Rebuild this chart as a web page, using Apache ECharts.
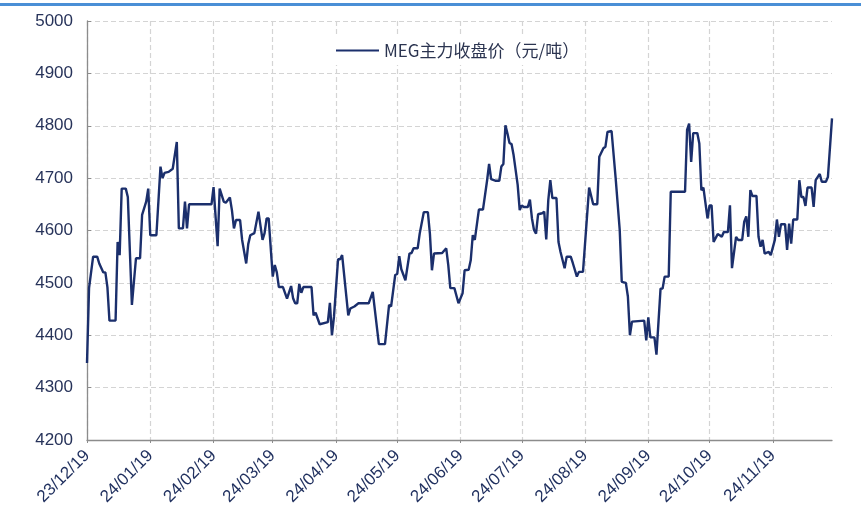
<!DOCTYPE html>
<html>
<head>
<meta charset="utf-8">
<script src="https://cdn.jsdelivr.net/npm/echarts@6/dist/echarts.min.js"></script>
<style>
  html, body { margin: 0; padding: 0; background: #ffffff; }
  #chart { width: 861px; height: 525px; }
</style>
</head>
<body>
<div id="chart"></div>
<script>
// MEG main contract daily close, CNY per tonne
const seriesName = 'MEG主力收盘价（元/吨）';
const startDate = '2023-12-19';
const endDate = '2024-12-18';
const yTicks = [4200, 4300, 4400, 4500, 4600, 4700, 4800, 4900, 5000];

const tradeDates = [
  '2023-12-19','2023-12-20','2023-12-22','2023-12-24','2023-12-25','2023-12-27','2023-12-28','2023-12-29','2023-12-30',
  '2024-01-02','2024-01-03','2024-01-04','2024-01-05','2024-01-07','2024-01-08','2024-01-10','2024-01-12','2024-01-14',
  '2024-01-15','2024-01-17','2024-01-18','2024-01-19','2024-01-22','2024-01-24','2024-01-25','2024-01-26','2024-01-28','2024-01-30',
  '2024-02-01','2024-02-02','2024-02-04','2024-02-05','2024-02-06','2024-02-07','2024-02-18','2024-02-19','2024-02-21',
  '2024-02-22','2024-02-24','2024-02-25','2024-02-27','2024-02-28','2024-02-29',
  '2024-03-01','2024-03-03','2024-03-04','2024-03-06','2024-03-07','2024-03-08','2024-03-10','2024-03-12','2024-03-14',
  '2024-03-15','2024-03-16','2024-03-17','2024-03-19','2024-03-20','2024-03-21','2024-03-22','2024-03-24','2024-03-26',
  '2024-03-28','2024-03-29','2024-03-30','2024-03-31',
  '2024-04-01','2024-04-02','2024-04-03','2024-04-07','2024-04-08','2024-04-09','2024-04-10','2024-04-11','2024-04-15',
  '2024-04-16','2024-04-17','2024-04-18','2024-04-20','2024-04-21','2024-04-22','2024-04-25','2024-04-26','2024-04-28','2024-04-30',
  '2024-05-05','2024-05-07','2024-05-10','2024-05-13','2024-05-15','2024-05-16','2024-05-18','2024-05-19','2024-05-20',
  '2024-05-21','2024-05-23','2024-05-25','2024-05-26','2024-05-27','2024-05-29','2024-05-30',
  '2024-06-01','2024-06-03','2024-06-04','2024-06-05','2024-06-06','2024-06-10','2024-06-12','2024-06-13','2024-06-14',
  '2024-06-16','2024-06-18','2024-06-20','2024-06-21','2024-06-23','2024-06-24','2024-06-25','2024-06-26','2024-06-28','2024-06-30',
  '2024-07-02','2024-07-03','2024-07-04','2024-07-06','2024-07-08','2024-07-09','2024-07-10','2024-07-11','2024-07-12',
  '2024-07-13','2024-07-14','2024-07-15','2024-07-17','2024-07-18','2024-07-19','2024-07-20','2024-07-22','2024-07-23',
  '2024-07-24','2024-07-25','2024-07-26','2024-07-27','2024-07-29','2024-07-30','2024-07-31',
  '2024-08-01','2024-08-02','2024-08-03','2024-08-05','2024-08-06','2024-08-07','2024-08-09','2024-08-10','2024-08-12',
  '2024-08-13','2024-08-15','2024-08-16','2024-08-18','2024-08-21','2024-08-23','2024-08-25','2024-08-26','2024-08-28',
  '2024-08-29','2024-08-30',
  '2024-09-01','2024-09-03','2024-09-05','2024-09-06','2024-09-08','2024-09-09','2024-09-10','2024-09-11','2024-09-17',
  '2024-09-18','2024-09-19','2024-09-20','2024-09-22','2024-09-23','2024-09-25','2024-09-26','2024-09-27','2024-09-29','2024-09-30',
  '2024-10-07','2024-10-08','2024-10-09','2024-10-10','2024-10-11','2024-10-13','2024-10-14','2024-10-15','2024-10-16',
  '2024-10-18','2024-10-19','2024-10-20','2024-10-21','2024-10-23','2024-10-24','2024-10-25','2024-10-26','2024-10-28',
  '2024-10-29','2024-10-30',
  '2024-11-01','2024-11-02','2024-11-04','2024-11-05','2024-11-06','2024-11-07','2024-11-08','2024-11-09','2024-11-11',
  '2024-11-12','2024-11-13','2024-11-14','2024-11-15','2024-11-17','2024-11-18','2024-11-20','2024-11-21','2024-11-22',
  '2024-11-23','2024-11-25','2024-11-26','2024-11-27','2024-11-28','2024-11-29',
  '2024-12-01','2024-12-02','2024-12-03','2024-12-04','2024-12-05','2024-12-06','2024-12-08','2024-12-09','2024-12-10',
  '2024-12-12','2024-12-13','2024-12-15','2024-12-16','2024-12-18'
];

const closePrices = [
  4347, 4490, 4550, 4550, 4537, 4520, 4520, 4492, 4428,
  4428, 4578, 4553, 4680, 4680, 4664, 4458, 4547, 4547,
  4630, 4655, 4680, 4591, 4591, 4722, 4700, 4710, 4712, 4718,
  4769, 4604, 4604, 4655, 4604, 4650, 4650, 4683, 4570,
  4680, 4655, 4653, 4663, 4639, 4604,
  4620, 4620, 4582, 4537, 4574, 4591, 4595, 4636, 4582,
  4595, 4623, 4623, 4512, 4534, 4520, 4492, 4492, 4470,
  4494, 4470, 4461, 4461,
  4498, 4481, 4492, 4492, 4438, 4443, 4432, 4421, 4425,
  4462, 4400, 4435, 4545, 4545, 4553, 4438, 4451, 4455, 4461,
  4461, 4483, 4383, 4383, 4458, 4455, 4515, 4517, 4551,
  4526, 4505, 4556, 4557, 4566, 4566, 4594,
  4635, 4635, 4594, 4524, 4556, 4557, 4566, 4534, 4490,
  4490, 4461, 4480, 4524, 4525, 4543, 4591, 4582, 4640, 4640,
  4695, 4727, 4698, 4695, 4695, 4722, 4727, 4801, 4785,
  4767, 4765, 4744, 4687, 4639, 4648, 4645, 4645, 4659,
  4623, 4601, 4594, 4631, 4633, 4636, 4583,
  4658, 4696, 4662, 4662, 4578, 4559, 4528, 4550, 4550,
  4538, 4512, 4521, 4521, 4682, 4650, 4650, 4741, 4757,
  4760, 4788,
  4790, 4700, 4601, 4502, 4500, 4474, 4400, 4426, 4428,
  4390, 4434, 4396, 4396, 4363, 4489, 4489, 4512, 4512, 4674,
  4674, 4792, 4804, 4731, 4786, 4786, 4766, 4677, 4682,
  4623, 4648, 4648, 4578, 4593, 4591, 4588, 4597, 4597,
  4648, 4528,
  4588, 4582, 4582, 4617, 4627, 4588, 4677, 4666, 4666,
  4588, 4569, 4582, 4556, 4559, 4553, 4582, 4621, 4588,
  4612, 4612, 4563, 4613, 4575, 4621,
  4621, 4696, 4664, 4664, 4647, 4682, 4682, 4645, 4696,
  4708, 4693, 4693, 4702, 4814
];

// every calendar day between the two ends, used as the category axis
function calendarDays(from, to) {
  const out = [];
  const p = s => s.split('-').map(Number);
  const [y0, m0, d0] = p(from);
  const [y1, m1, d1] = p(to);
  let t = Date.UTC(y0, m0 - 1, d0);
  const stop = Date.UTC(y1, m1 - 1, d1);
  while (t <= stop) {
    out.push(new Date(t).toISOString().slice(0, 10));
    t += 86400000;
  }
  return out;
}

const days = calendarDays(startDate, endDate);
const priceByDate = {};
tradeDates.forEach((d, i) => { priceByDate[d] = closePrices[i]; });
const lineData = days.map(d => (d in priceByDate ? priceByDate[d] : null));

const isMonthMark = (idx, val) => val.slice(8, 10) === '19';
const shortDate = val => val.slice(2, 4) + '/' + val.slice(5, 7) + '/' + val.slice(8, 10);

const chart = echarts.init(document.getElementById('chart'), null, { renderer: 'canvas' });

chart.setOption({
  animation: false,
  backgroundColor: '#ffffff',
  graphic: [{
    type: 'rect',
    left: 0, top: 3,
    shape: { width: 861, height: 3 },
    style: { fill: '#4a8fd6' },
    silent: true
  }],
  grid: { left: 87, right: 29, top: 21, bottom: 85, containLabel: false },
  legend: {
    data: [seriesName],
    left: 330,
    top: 36,
    padding: [6, 6],
    backgroundColor: '#ffffff',
    icon: 'rect',
    itemWidth: 43,
    itemHeight: 2,
    itemGap: 5,
    itemStyle: { color: '#1b2f6c' },
    textStyle: { fontFamily: 'Noto Sans CJK SC', fontSize: 17, color: '#2b3450', padding: [0, 0, 0, 0] }
  },
  xAxis: {
    type: 'category',
    data: days,
    boundaryGap: false,
    axisLine: { show: true, lineStyle: { color: '#8c8c8c', width: 1.3 } },
    axisTick: { show: true, interval: isMonthMark, length: 3, lineStyle: { color: '#8c8c8c' } },
    axisLabel: {
      interval: isMonthMark,
      rotate: 45,
      margin: 13,
      formatter: shortDate,
      fontFamily: 'Liberation Sans',
      fontSize: 17,
      color: '#1f2f5e'
    },
    splitLine: {
      show: true,
      interval: isMonthMark,
      lineStyle: { color: '#d4d4d4', type: [5, 3], width: 1.2 }
    }
  },
  yAxis: {
    type: 'value',
    min: yTicks[0],
    max: yTicks[yTicks.length - 1],
    interval: yTicks[1] - yTicks[0],
    axisLine: { show: true, lineStyle: { color: '#8c8c8c', width: 1.3 } },
    axisTick: { show: true, inside: true, length: 4, lineStyle: { color: '#8c8c8c' } },
    axisLabel: {
      margin: 14,
      formatter: v => String(v),
      fontFamily: 'Liberation Sans',
      fontSize: 17,
      color: '#27335a'
    },
    splitLine: {
      show: true,
      lineStyle: { color: '#d4d4d4', type: [5, 3], width: 1.2 }
    }
  },
  series: [{
    name: seriesName,
    type: 'line',
    data: lineData,
    connectNulls: true,
    symbol: 'none',
    showSymbol: false,
    lineStyle: { color: '#1b2f6c', width: 2.4 },
    itemStyle: { color: '#1b2f6c' }
  }]
});
</script>
</body>
</html>
